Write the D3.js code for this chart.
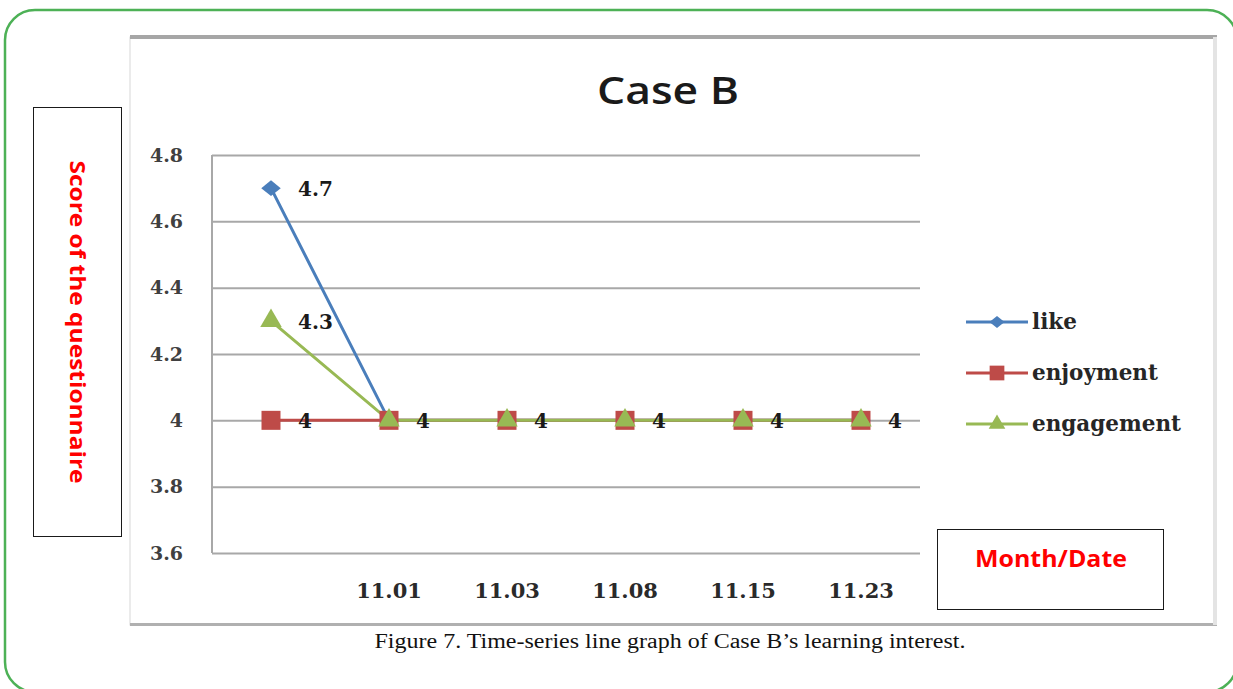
<!DOCTYPE html>
<html>
<head>
<meta charset="utf-8">
<script src="https://cdn.jsdelivr.net/npm/d3@7"></script>
<style>
  html, body { margin: 0; padding: 0; background: #ffffff; }
  svg { display: block; }
</style>
</head>
<body>
<svg id="chart" width="1233" height="689"></svg>
<script>
// Survey dates (first session has no date label)
const categories = ["", "11.01", "11.03", "11.08", "11.15", "11.23"];
const likeValues = [4.7, 4, 4, 4, 4, 4];
const enjoymentValues = [4, 4, 4, 4, 4, 4];
const engagementValues = [4.3, 4, 4, 4, 4, 4];
const yTicks = [3.6, 3.8, 4, 4.2, 4.4, 4.6, 4.8];
const yTickLabels = ["3.6", "3.8", "4", "4.2", "4.4", "4.6", "4.8"];
const seriesNames = ["like", "enjoyment", "engagement"];

// Slightly flattened diamond marker
const flatDiamond = {
  draw(context, size) {
    const r = Math.sqrt(size) / 2;
    context.moveTo(0, -r * 0.8);
    context.lineTo(r, 0);
    context.lineTo(0, r * 0.8);
    context.lineTo(-r, 0);
    context.closePath();
  }
};

const series = [
  { name: seriesNames[0], values: likeValues, color: "#4a7ebb", symbol: flatDiamond, size: 380 },
  { name: seriesNames[1], values: enjoymentValues, color: "#be4b48", symbol: d3.symbolSquare, size: 361 },
  { name: seriesNames[2], values: engagementValues, color: "#98b954", symbol: d3.symbolTriangle, size: 200 }
];

const svg = d3.select("#chart");
const serif = "'DejaVu Serif', serif";
const sans = "'Open Sans', 'Noto Sans', sans-serif";

// Outer rounded frame
svg.append("rect")
  .attr("x", 5).attr("y", 10).attr("width", 1232).attr("height", 682)
  .attr("rx", 30).attr("ry", 30)
  .attr("fill", "#ffffff").attr("stroke", "#4db156").attr("stroke-width", 2.5);

// Chart panel
const panel = svg.append("g");
panel.append("rect")
  .attr("x", 130).attr("y", 37).attr("width", 1085).attr("height", 588)
  .attr("fill", "#ffffff").attr("stroke", "#d8d8d8").attr("stroke-width", 1);
panel.append("rect").attr("x", 130).attr("y", 35).attr("width", 1087).attr("height", 4).attr("fill", "#a6a6a6");
panel.append("rect").attr("x", 130).attr("y", 623).attr("width", 1087).attr("height", 3).attr("fill", "#b0b0b0");
panel.append("rect").attr("x", 1213).attr("y", 37).attr("width", 4).attr("height", 588).attr("fill", "#e4e4e4");

// Title
svg.append("text")
  .attr("x", 668).attr("y", 104)
  .attr("text-anchor", "middle")
  .attr("font-family", sans).attr("font-weight", 600)
  .attr("font-size", 37).attr("fill", "#1a1a1a")
  .attr("textLength", 142).attr("lengthAdjust", "spacingAndGlyphs")
  .text("Case B");

// Scales
const plotLeft = 212, plotRight = 920, plotTop = 155, plotBottom = 553;
const x = d3.scaleBand().domain(categories).range([plotLeft, plotRight]);
const cx = c => x(c) + x.bandwidth() / 2;
const y = d3.scaleLinear().domain([3.6, 4.8]).range([plotBottom, plotTop]);

// Gridlines and y axis labels
const yAxis = d3.axisLeft(y)
  .tickValues(yTicks)
  .tickSize(-(plotRight - plotLeft))
  .tickPadding(29)
  .tickFormat((d, i) => yTickLabels[i]);
const gy = svg.append("g").attr("transform", `translate(${plotLeft},0)`).call(yAxis);
gy.select(".domain").remove();
gy.selectAll(".tick line").attr("stroke", "#a8a8a8").attr("stroke-width", 2);
gy.selectAll(".tick text")
  .attr("font-family", serif).attr("font-weight", "bold")
  .attr("font-size", 19).attr("fill", "#404040");

// Vertical axis line
svg.append("line")
  .attr("x1", plotLeft).attr("x2", plotLeft)
  .attr("y1", plotTop).attr("y2", plotBottom)
  .attr("stroke", "#a8a8a8").attr("stroke-width", 2);

// Category labels
const xAxis = d3.axisBottom(x).tickSize(0).tickPadding(0);
const gx = svg.append("g").attr("transform", `translate(0,${plotBottom + 30})`).call(xAxis);
gx.select(".domain").remove();
gx.selectAll(".tick text")
  .attr("font-family", serif).attr("font-weight", "bold")
  .attr("font-size", 21).attr("fill", "#2a2a2a")
  .attr("dy", "0.71em");

// Series lines and markers
const line = d3.line()
  .x((d, i) => cx(categories[i]))
  .y(d => y(d));

series.forEach(s => {
  svg.append("path")
    .datum(s.values)
    .attr("d", line)
    .attr("fill", "none")
    .attr("stroke", s.color)
    .attr("stroke-width", 3);
});
series.forEach(s => {
  svg.append("g").selectAll("path")
    .data(s.values)
    .join("path")
    .attr("transform", (d, i) => `translate(${cx(categories[i])},${y(d)})`)
    .attr("d", d3.symbol().type(s.symbol).size(s.size))
    .attr("fill", s.color);
});

// Value labels (identical values at one point share a single label)
const labelData = [];
categories.forEach((c, i) => {
  const seen = new Set();
  series.forEach(s => {
    const v = s.values[i];
    if (!seen.has(v)) { seen.add(v); labelData.push({ c, v }); }
  });
});
svg.append("g").selectAll("text")
  .data(labelData)
  .join("text")
  .attr("x", d => cx(d.c) + 27)
  .attr("y", d => y(d.v) + 8)
  .attr("font-family", serif).attr("font-weight", "bold")
  .attr("font-size", 20).attr("fill", "#1a1a1a")
  .text(d => d3.format("~g")(d.v));

// Legend
const legend = svg.append("g");
series.forEach((s, i) => {
  const ly = 322 + i * 51;
  legend.append("line")
    .attr("x1", 966).attr("x2", 1028).attr("y1", ly).attr("y2", ly)
    .attr("stroke", s.color).attr("stroke-width", 3);
  legend.append("path")
    .attr("transform", `translate(997,${ly})`)
    .attr("d", d3.symbol().type(s.symbol).size(s.size * 0.6))
    .attr("fill", s.color);
  legend.append("text")
    .attr("x", 1032).attr("y", ly + 7)
    .attr("font-family", serif).attr("font-weight", "bold")
    .attr("font-size", 21.5).attr("fill", "#262626")
    .text(s.name);
});

// Y axis title box
svg.append("rect")
  .attr("x", 33.5).attr("y", 107.5).attr("width", 88).attr("height", 429)
  .attr("fill", "#ffffff").attr("stroke", "#1a1a1a").attr("stroke-width", 1);
svg.append("text")
  .attr("transform", "translate(78,322) rotate(90)")
  .attr("text-anchor", "middle").attr("dy", "0.35em")
  .attr("font-family", sans).attr("font-weight", "bold")
  .attr("font-size", 22).attr("fill", "#ff0000")
  .attr("textLength", 323).attr("lengthAdjust", "spacingAndGlyphs")
  .text("Score of the questionnaire");

// X axis title box
svg.append("rect")
  .attr("x", 937.5).attr("y", 529.5).attr("width", 226).attr("height", 80)
  .attr("fill", "#ffffff").attr("stroke", "#1a1a1a").attr("stroke-width", 1);
svg.append("text")
  .attr("x", 1051).attr("y", 559).attr("dy", "0.35em")
  .attr("text-anchor", "middle")
  .attr("font-family", sans).attr("font-weight", "bold")
  .attr("font-size", 24).attr("fill", "#ff0000")
  .attr("textLength", 152).attr("lengthAdjust", "spacingAndGlyphs")
  .text("Month/Date");

// Caption
svg.append("text")
  .attr("x", 670).attr("y", 648)
  .attr("text-anchor", "middle")
  .attr("font-family", "'Liberation Serif', 'Times New Roman', serif")
  .attr("font-size", 20).attr("fill", "#111111")
  .attr("textLength", 591).attr("lengthAdjust", "spacingAndGlyphs")
  .text("Figure 7. Time-series line graph of Case B\u2019s learning interest.");
</script>
</body>
</html>
